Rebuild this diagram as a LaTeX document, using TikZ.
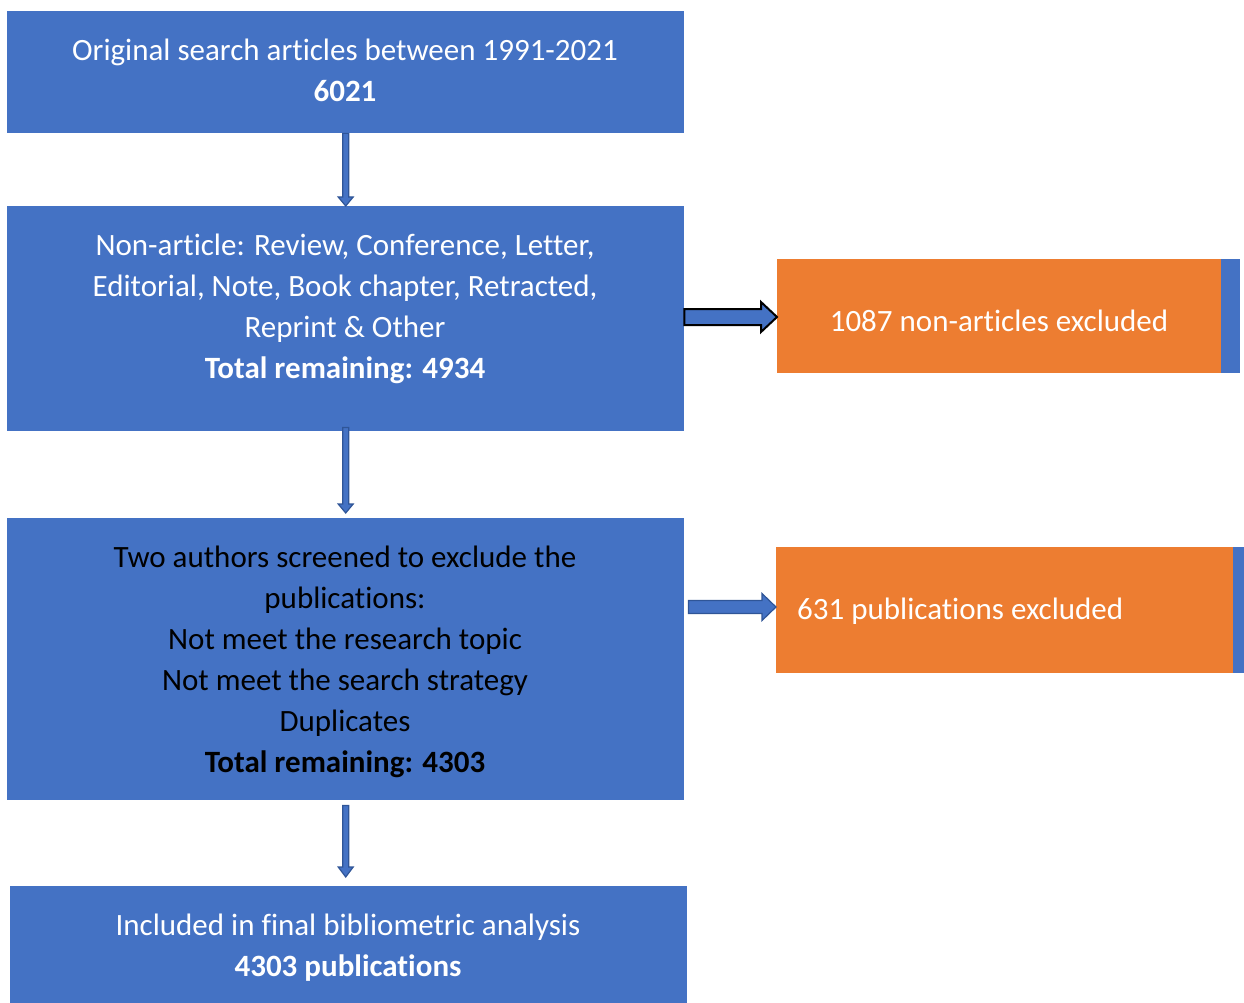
\documentclass[tikz,border=0pt]{standalone}
\usepackage{fontspec}
\setmainfont[RawFeature={-liga;-clig;-calt;-dlig;-rlig}]{Carlito}
\usetikzlibrary{calc}
\definecolor{bblue}{HTML}{4472C4}
\definecolor{dblue}{HTML}{2F5597}
\definecolor{borange}{HTML}{ED7D31}
\newcommand\vblk[6]{% style, start, end, half shaft, half head, head length
  \draw[#1] let \p1=(#2), \p2=(#3) in
    (\x1-#4,\y1) -- (\x1-#4,\y2+#6) -- (\x1-#5,\y2+#6) -- (\x1,\y2)
    -- (\x1+#5,\y2+#6) -- (\x1+#4,\y2+#6) -- (\x1+#4,\y1) -- cycle;}
\newcommand\hblk[6]{%
  \draw[#1] let \p1=(#2), \p2=(#3) in
    (\x1,\y1-#4) -- (\x2-#6,\y1-#4) -- (\x2-#6,\y1-#5) -- (\x2,\y1)
    -- (\x2-#6,\y1+#5) -- (\x2-#6,\y1+#4) -- (\x1,\y1+#4) -- cycle;}
\begin{document}
\begin{tikzpicture}[x=1pt,y=-1pt,
  boxb/.style={fill=bblue, draw=none, inner sep=0pt, anchor=north west},
  boxo/.style={fill=borange, draw=none, inner sep=0pt, anchor=north west},
  txt/.style={font=\fontsize{31}{41}\selectfont, align=center, text=white, inner sep=0pt},
  varrow/.style={fill=bblue, draw=dblue, line width=1.2pt},
]
\useasboundingbox (0,0) rectangle (1244,1003);
% boxes
\node[boxb, minimum width=677pt, minimum height=122pt] (b1) at (7,11) {};
\node[boxb, minimum width=677pt, minimum height=225pt] (b2) at (7,206) {};
\node[boxb, minimum width=677pt, minimum height=282pt] (b3) at (7,518) {};
\node[boxb, minimum width=677pt, minimum height=117pt] (b4) at (10,886) {};
\node[boxo, minimum width=444pt, minimum height=114pt] (o1) at (777,259) {};
\node[boxb, minimum width=19pt, minimum height=114pt] (s1) at (1221,259) {};
\node[boxo, minimum width=457pt, minimum height=126pt] (o2) at (776,547) {};
\node[boxb, minimum width=11pt, minimum height=126pt] (s2) at (1233,547) {};
% texts
\node[txt] (t1) at (345,70.5) {Original search articles between 1991-2021\\\textbf{6021}};
\node[txt] (t2) at (345,309) {Non-article: Review, Conference, Letter,\\Editorial, Note, Book chapter, Retracted,\\Reprint \& Other\\\textbf{Total remaining: 4934}};
\node[txt, text=black] (t3) at (345,662) {Two authors screened to exclude the\\publications:\\Not meet the research topic\\Not meet the search strategy\\Duplicates\\\textbf{Total remaining: 4303}};
\node[txt] (t4) at (348,948) {Included in final bibliometric analysis\\\textbf{4303 publications}};
\node[txt] (t5) at (999,321) {1087 non-articles excluded};
\node[txt, anchor=west] (t6) at (797,611) {631 publications excluded};
% vertical arrows
\coordinate (a1s) at (b1.south);
\coordinate (a1e) at (b2.north);
\coordinate (a2s) at ($(b2.south)+(0,-4)$);
\coordinate (a2e) at ($(b3.north)+(0,-5)$);
\coordinate (a3s) at ($(b3.south)+(0,5)$);
\coordinate (a3e) at ($(b4.north)+(0,-9)$);
\vblk{varrow}{a1s}{a1e}{3pt}{7.5pt}{9pt}
\vblk{varrow}{a2s}{a2e}{3pt}{7.5pt}{9pt}
\vblk{varrow}{a3s}{a3e}{3pt}{7.5pt}{10pt}
% horizontal arrows
\coordinate (h1s) at (b2.east |- 0,317);
\coordinate (h1e) at (o1.west |- 0,317);
\hblk{fill=bblue, draw=black, line width=2pt}{h1s}{h1e}{8pt}{15pt}{16pt}
\coordinate (h2s) at ($(b3.east |- 0,607)+(4,0)$);
\coordinate (h2e) at (o2.west |- 0,607);
\hblk{fill=bblue, draw=dblue, line width=1.2pt}{h2s}{h2e}{6.5pt}{13.5pt}{14pt}
\end{tikzpicture}
\end{document}
